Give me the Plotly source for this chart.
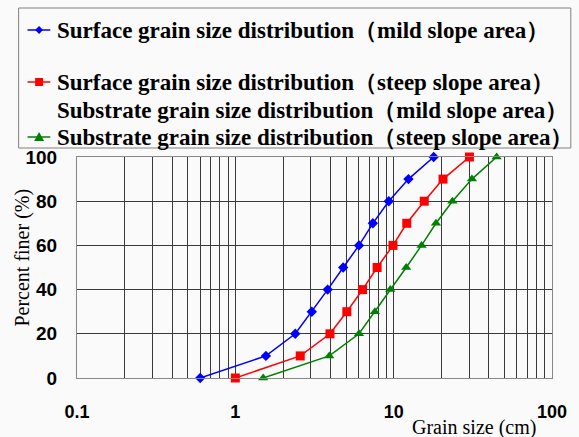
import plotly.graph_objects as go

# Percent finer levels (%)
percent_finer = [0, 10, 20, 30, 40, 50, 60, 70, 80, 90, 100]

# Grain sizes (cm) at each percent-finer level
surface_mild = [0.60, 1.56, 2.39, 3.04, 3.83, 4.80, 6.04, 7.39, 9.31, 12.4, 17.9]
surface_steep = [1.00, 2.57, 3.96, 5.06, 6.36, 7.86, 9.9, 12.1, 15.6, 20.5, 30.1]
substrate_steep = [1.50, 3.92, 6.04, 7.61, 9.52, 12.0, 15.0, 18.5, 23.5, 31.2, 44.7]

legend_labels = [
    "Surface grain size distribution（mild slope area）",
    "Surface grain size distribution（steep slope area）",
    "Substrate grain size distribution（mild slope area）",
    "Substrate grain size distribution（steep slope area）",
]
x_tick_labels = ["0.1", "1", "10", "100"]
y_tick_values = [0, 20, 40, 60, 80, 100]

SERIF = "Liberation Serif, Times New Roman, Times, serif"
SANS = "Liberation Sans, Arial, sans-serif"

W, H = 579, 437
ML, MR, MT, MB = 77, 22, 157, 59
PW, PH = W - ML - MR, H - MT - MB


def px(x):
    return (x - ML) / PW


def py(y):
    return (H - MB - y) / PH


fig = go.Figure()

series = [
    (surface_mild, "#0000ff", "diamond", 8),
    (surface_steep, "#ff0000", "square", 9),
    (substrate_steep, "#008000", "triangle-up", 9),
]
for xs, color, sym, size in series:
    fig.add_trace(go.Scatter(
        x=xs, y=percent_finer, mode="lines+markers",
        line=dict(color=color, width=1.5),
        marker=dict(symbol=sym, size=size, color=color),
        showlegend=False, cliponaxis=False,
    ))

# grid at every 1..9 multiple of each decade, labels only at powers of ten
grid_vals, grid_text = [], []
for d in range(-1, 2):
    for m in range(1, 10):
        grid_vals.append(m * 10 ** d)
        grid_text.append(x_tick_labels[d + 1] if m == 1 else "")
grid_vals.append(100)
grid_text.append(x_tick_labels[3])

fig.update_xaxes(
    type="log", range=[-1, 2], tickvals=grid_vals, ticktext=grid_text,
    showgrid=True, gridcolor="#3a3a3a", gridwidth=1,
    showline=True, linecolor="#888888", linewidth=1, mirror=True,
    ticks="", ticklabelstandoff=17, zeroline=False,
    tickfont=dict(family=SANS, size=18, color="black", weight="bold"),
)
fig.update_yaxes(
    range=[0, 100], tickvals=y_tick_values,
    showgrid=True, gridcolor="#3a3a3a", gridwidth=1,
    showline=True, linecolor="#888888", linewidth=1, mirror=True,
    ticks="", ticklabelstandoff=15, zeroline=False,
    tickfont=dict(family=SANS, size=19, color="black", weight="bold"),
)

annotations = [
    dict(text="Grain size (cm)", x=px(478), y=py(427), xref="paper", yref="paper",
         xanchor="center", yanchor="middle", showarrow=False,
         font=dict(family=SERIF, size=20, color="black")),
    dict(text="Percent finer (%)", x=px(21), y=py(258), xref="paper", yref="paper",
         xanchor="center", yanchor="middle", showarrow=False, textangle=-90,
         font=dict(family=SERIF, size=20, color="black")),
]

# legend box drawn by hand to keep its uneven row spacing
shapes = [dict(type="rect", xref="paper", yref="paper",
               x0=px(18), x1=px(576), y0=py(8), y1=py(148),
               line=dict(color="#808080", width=1), fillcolor="rgba(0,0,0,0)")]
row_y = [30, 82, 110, 137]
row_marks = [("#0000ff", "diamond"), ("#ff0000", "square"), None, ("#008000", "triangle")]
for label, yy, mk in zip(legend_labels, row_y, row_marks):
    annotations.append(dict(
        text=label, x=px(55), y=py(yy), xref="paper", yref="paper",
        xanchor="left", yanchor="middle", showarrow=False,
        font=dict(family=SERIF, size=23, color="black", weight="bold")))
    if mk is None:
        continue
    color, kind = mk
    shapes.append(dict(type="line", xref="paper", yref="paper",
                       x0=px(27), x1=px(50), y0=py(yy), y1=py(yy),
                       line=dict(color=color, width=1.5)))
    cx = 38.7
    if kind == "diamond":
        pts = [(cx, yy - 4), (cx + 4, yy), (cx, yy + 4), (cx - 4, yy)]
    elif kind == "square":
        pts = [(cx - 4, yy - 4), (cx + 4, yy - 4), (cx + 4, yy + 4), (cx - 4, yy + 4)]
    else:
        pts = [(cx, yy - 5), (cx + 5, yy + 4), (cx - 5, yy + 4)]
    path = "M " + " L ".join(f"{px(a)},{py(b)}" for a, b in pts) + " Z"
    shapes.append(dict(type="path", xref="paper", yref="paper", path=path,
                       fillcolor=color, line=dict(color=color, width=0)))

fig.update_layout(
    width=W, height=H,
    margin=dict(l=ML, r=MR, t=MT, b=MB),
    paper_bgcolor="#fafafa", plot_bgcolor="#fafafa",
    annotations=annotations, shapes=shapes,
    showlegend=False,
)

fig.write_html("out.html")
